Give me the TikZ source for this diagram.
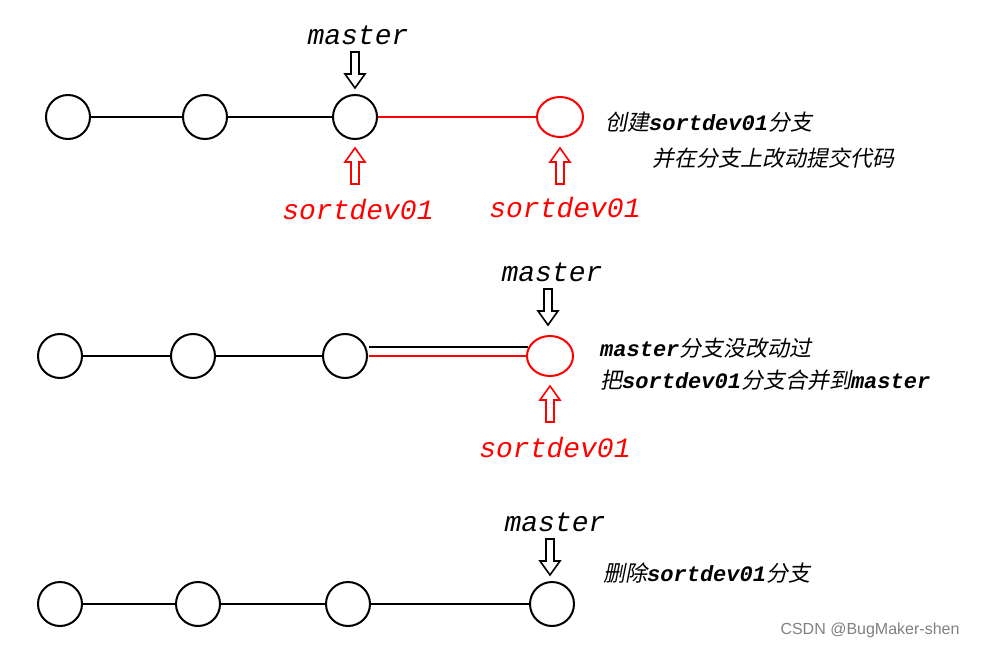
\documentclass[tikz,border=0pt]{standalone}
\usetikzlibrary{shapes.geometric}
\usepackage{fontspec}
\newfontfamily\mono{Liberation Mono}
\newfontfamily\cjk[FakeSlant=0.2]{Noto Sans CJK SC}
\newfontfamily\wm{Liberation Sans}
\begin{document}
\begin{tikzpicture}[x=1pt,y=-1pt,
  cn/.style={circle,draw,line width=2pt,minimum size=44pt,inner sep=0pt},
  rm/.style={ellipse,draw=red,line width=2pt,minimum width=46pt,minimum height=40pt,inner sep=0pt},
  ln/.style={line width=2pt},
  lab/.style={font=\mono\itshape\fontsize{28}{30}\selectfont,inner sep=0pt},
  txt/.style={font=\fontsize{22}{24}\selectfont,anchor=west,inner sep=0pt},
  arr/.style={line width=1.6pt,line join=miter}]
\useasboundingbox (0,0) rectangle (983,650);
\tikzset{down/.pic={\draw[arr,pic actions] (-4,0)--(4,0)--(4,22)--(10,22)--(0,36)--(-10,22)--(-4,22)--cycle;},
 up/.pic={\draw[arr,pic actions] (-4,0)--(4,0)--(4,-22)--(10,-22)--(0,-36)--(-10,-22)--(-4,-22)--cycle;}}
\newcommand\M[1]{{\mono\itshape\bfseries #1}}
\newcommand\C[1]{{\cjk #1}}
% row 1
\node[cn] (a1) at (68,117) {};
\node[cn] (a2) at (205,117) {};
\node[cn] (a3) at (355,117) {};
\node[rm] (a4) at (560,117) {};
\draw[ln] (a1)--(a2); \draw[ln] (a2)--(a3);
\draw[ln,red] (a3)--(a4);
\node[lab] (m1) at (358,35) {master};
\pic at (355,52) {down};
\pic[draw=red] at (355,184) {up};
\pic[draw=red] at (560,184) {up};
\node[lab,red] (s1) at (358,210) {sortdev01};
\node[lab,red] (s2) at (565,208) {sortdev01};
\node[txt] (t1) at (605,122) {\C{创建}\M{sortdev01}\C{分支}};
\node[txt] (t2) at (652,158) {\C{并在分支上改动提交代码}};
% row 2
\node[cn] (b1) at (60,356) {};
\node[cn] (b2) at (193,356) {};
\node[cn] (b3) at (345,356) {};
\node[rm] (b4) at (550,356) {};
\draw[ln] (b1)--(b2); \draw[ln] (b2)--(b3);
\coordinate (d1) at (369,347); \coordinate (d2) at (528,347);
\coordinate (e1) at (369,356); \coordinate (e2) at (528,356);
\draw[ln] (d1)--(d2); \draw[ln,red] (e1)--(e2);
\node[lab] (m2) at (552,272) {master};
\pic at (548,289) {down};
\pic[draw=red] at (550,422) {up};
\node[lab,red] (s3) at (555,448) {sortdev01};
\node[txt] (t3) at (600,348) {\M{master}\C{分支没改动过}};
\node[txt] (t4) at (600,380) {\C{把}\M{sortdev01}\C{分支合并到}\M{master}};
% row 3
\node[cn] (c1) at (60,604) {};
\node[cn] (c2) at (198,604) {};
\node[cn] (c3) at (348,604) {};
\node[cn] (c4) at (552,604) {};
\draw[ln] (c1)--(c2); \draw[ln] (c2)--(c3); \draw[ln] (c3)--(c4);
\node[lab] (m3) at (555,522) {master};
\pic at (550,539) {down};
\node[txt] (t5) at (603,573) {\C{删除}\M{sortdev01}\C{分支}};
\node[font=\wm\fontsize{16}{18}\selectfont,text=gray] (w) at (870,630) {CSDN @BugMaker-shen};
\end{tikzpicture}
\end{document}
